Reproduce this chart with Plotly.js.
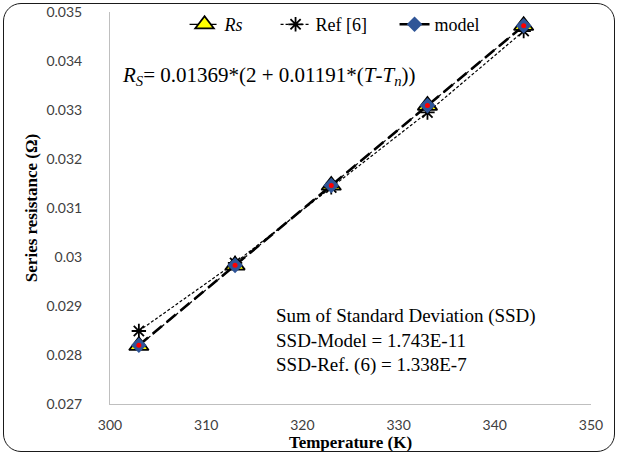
<!DOCTYPE html>
<html>
<head>
<meta charset="utf-8">
<script src="https://cdn.plot.ly/plotly-3.0.1.min.js"></script>
<style>
html,body{margin:0;padding:0;background:#fff;}
#wrap{position:relative;width:619px;height:456px;}
#chart{width:619px;height:456px;}
#frame{position:absolute;left:3px;top:3px;width:612px;height:449px;border:1.5px solid #1a1a1a;border-radius:18px;pointer-events:none;box-sizing:border-box;}
</style>
</head>
<body>
<div id="wrap"><div id="chart"></div><div id="frame"></div></div>
<script>
// Data
const temperature = [303, 313, 323, 333, 343];
const rsMeasured = [0.02819, 0.02983, 0.03146, 0.03309, 0.03472];
const rsRef6 = [0.02849, 0.02988, 0.03142, 0.03295, 0.03461];
const rsModel = [0.02820, 0.02983, 0.03146, 0.03309, 0.03472];
const yTickVals = [0.027, 0.028, 0.029, 0.03, 0.031, 0.032, 0.033, 0.034, 0.035];
const yTickText = ['0.027', '0.028', '0.029', '0.03', '0.031', '0.032', '0.033', '0.034', '0.035'];
const xTickVals = [300, 310, 320, 330, 340, 350];
const seriesNames = ['<i>Rs</i>', 'Ref [6]', 'model'];

const serif = 'Liberation Serif';
const sans = 'Lato';
const pad = n => '&nbsp;'.repeat(n);

const traces = [
  {
    x: temperature, y: rsMeasured, name: seriesNames[0] + pad(6), mode: 'lines+markers',
    line: {color: '#000', width: 1.2, dash: 'dashdot'},
    marker: {symbol: 'triangle-up', size: 17, color: '#ffff00', line: {color: '#000', width: 1.8}}
  },
  {
    x: temperature, y: rsRef6, name: seriesNames[1] + pad(5), mode: 'lines+markers',
    line: {color: '#000', width: 1.2, dash: '3px,2px'},
    marker: {symbol: 'asterisk-open', size: 12, color: '#000', line: {color: '#000', width: 1.8}}
  },
  {
    x: temperature, y: rsModel, name: seriesNames[2], mode: 'lines+markers',
    line: {color: '#000', width: 2.6, dash: '12px,6px'},
    marker: {symbol: 'diamond', size: 12, color: '#2f5597', line: {color: '#2f5597', width: 0}}
  },
  {
    x: temperature, y: rsModel, name: 'model centre', mode: 'markers', showlegend: false,
    marker: {symbol: 'circle', size: 5, color: '#ff0000', line: {width: 0}}
  }
];

const layout = {
  width: 619, height: 456,
  margin: {l: 110, r: 28, t: 12, b: 52, autoexpand: false},
  paper_bgcolor: '#fff', plot_bgcolor: '#fff',
  showlegend: true,
  legend: {
    orientation: 'h', x: 0.155, xanchor: 'left', y: 1.015, yanchor: 'top',
    font: {family: serif, size: 18, color: '#000'}, bgcolor: 'rgba(0,0,0,0)',
    itemwidth: 30, tracegroupgap: 0
  },
  xaxis: {
    range: [300, 350], tickvals: xTickVals, ticks: '', showgrid: false, zeroline: false,
    showline: true, linecolor: '#bfbfbf', linewidth: 1, ticklabelstandoff: 8,
    tickfont: {family: sans, size: 14, color: '#404040'},
    title: {text: '<b>Temperature (K)</b>', font: {family: serif, size: 17, color: '#000'}, standoff: 2}
  },
  yaxis: {
    range: [0.027, 0.035], tickvals: yTickVals, ticktext: yTickText, ticks: '', showgrid: false,
    zeroline: false, showline: true, linecolor: '#bfbfbf', linewidth: 1, ticklabelstandoff: 24,
    tickfont: {family: sans, size: 14, color: '#404040'},
    title: {text: '<b>Series resistance (Ω)</b>', font: {family: serif, size: 17, color: '#000'}, standoff: 4}
  },
  annotations: [
    {
      xref: 'paper', yref: 'paper', x: 0.02, y: 0.837, xanchor: 'left', yanchor: 'middle', showarrow: false,
      text: '<i>R<sub>S</sub></i>= 0.01369*(2 + 0.01191*(<i>T</i>-<i>T<sub>n</sub></i>))',
      font: {family: serif, size: 21, color: '#000'}
    },
    {
      xref: 'paper', yref: 'paper', x: 0.89, y: 0.161, xanchor: 'right', yanchor: 'middle', showarrow: false, align: 'left',
      text: 'Sum of Standard Deviation (SSD)<br>SSD-Model = 1.743E-11<br>SSD-Ref. (6) = 1.338E-7',
      font: {family: serif, size: 19, color: '#000'}
    }
  ]
};

Plotly.newPlot('chart', traces, layout, {displayModeBar: false, staticPlot: true});
</script>
</body>
</html>
